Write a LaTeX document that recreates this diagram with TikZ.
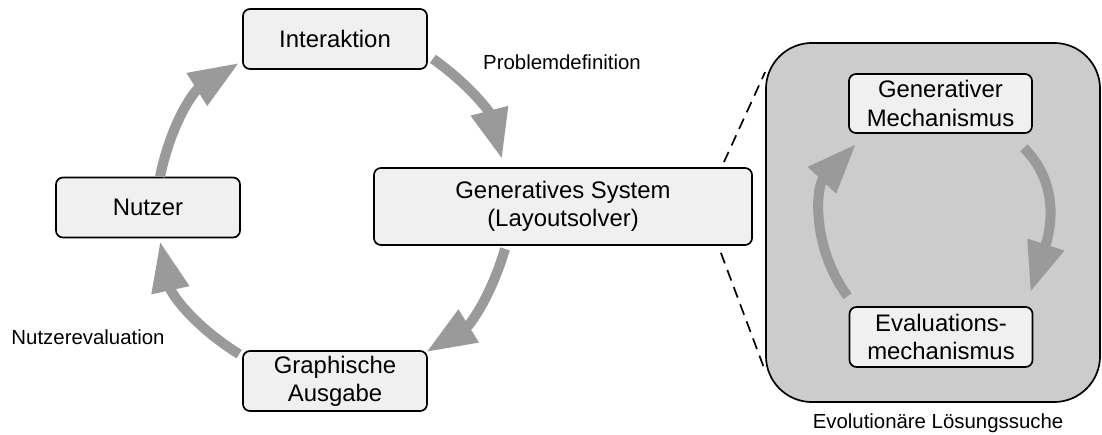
\documentclass[tikz,border=0pt]{standalone}
\usepackage{fontspec}
\setmainfont{Liberation Sans}
\usetikzlibrary{arrows.meta,calc}
\definecolor{boxfill}{HTML}{EFF0EF}
\definecolor{arrowgray}{HTML}{9A9A9A}
\definecolor{areagray}{HTML}{CCCCCC}

\begin{document}
\begin{tikzpicture}[x=0.025cm, y=0.025cm,
    stage/.style ={rectangle, rounded corners=5pt, draw, line width=1.2pt, fill=boxfill, inner sep=0pt,
                   align=center, font=\fontsize{17}{20}\selectfont, minimum width=4.6cm, minimum height=1.5cm},
    caption/.style ={font=\fontsize{14.5}{17}\selectfont},
    cycle/.style ={line width=0.25cm, draw=arrowgray, -{Triangle[width=0.9cm, length=1.25cm]}}]
   \useasboundingbox (0,0) rectangle (1102,434);

   \node[rectangle, rounded corners=1.15cm, draw, line width=1.2pt, fill=areagray,
         minimum width=8.35cm, minimum height=8.975cm] (Evo) at (933,211.5) {};

   \node[stage] (Interaktion) at (335,395) {Interaktion};
   \node[stage] (Nutzer) at (148,226.5) {Nutzer};
   \node[stage, minimum width=9.45cm, minimum height=1.925cm] (System) at (563,227.5) {Generatives System\\(Layoutsolver)};
   \node[stage] (Ausgabe) at (335,53) {Graphische\\Ausgabe};
   \node[stage, minimum width=4.575cm, minimum height=1.475cm] (GenMech) at (940.5,330.5) {Generativer\\Mechanismus};
   \node[stage, minimum width=4.575cm, minimum height=1.5cm] (EvalMech) at (941,97) {Evaluations-\\mechanismus};

   \node[caption] (Problem) at (562,372) {Problemdefinition};
   \node[caption] (Bewertung) at (88,97) {Nutzerevaluation};
   \node[caption] (Suche) at (938,11) {Evolutionäre Lösungssuche};

   \draw[line width=1.2pt, dash pattern=on 8pt off 5pt] ($(System.north east)+(-29,5)$) -- ($(Evo.north west)+(0,-30)$);
   \draw[line width=1.2pt, dash pattern=on 8pt off 5pt] ($(System.south east)+(-32,-7)$) -- ($(Evo.south west)+(0,32)$);

   \draw[cycle] ($(Nutzer.north)+(12,0)$) to[bend left=23] ($(Interaktion.south west)+(-3,7)$);
   \draw[cycle] ($(Interaktion.south east)+(5,11)$) to[bend left=20] ($(System.north)+(-61,8)$);
   \draw[cycle] ($(System.south)+(-58,-3)$) to[bend left=21] ($(Ausgabe.north west)+(184,-2)$);
   \draw[cycle] ($(Ausgabe.north west)+(-3,-4)$) to[bend left=23] ($(Nutzer.south)+(12,-3)$);

   \draw[cycle] ($(GenMech.south east)+(-9,-14)$) to[out=-45, in=72] ($(EvalMech.north east)+(-3,14)$);
   \draw[cycle] ($(EvalMech.north west)+(-1,10)$) to[bend left=40] ($(GenMech.south west)+(8,-10)$);
 \end{tikzpicture}
\end{document}
